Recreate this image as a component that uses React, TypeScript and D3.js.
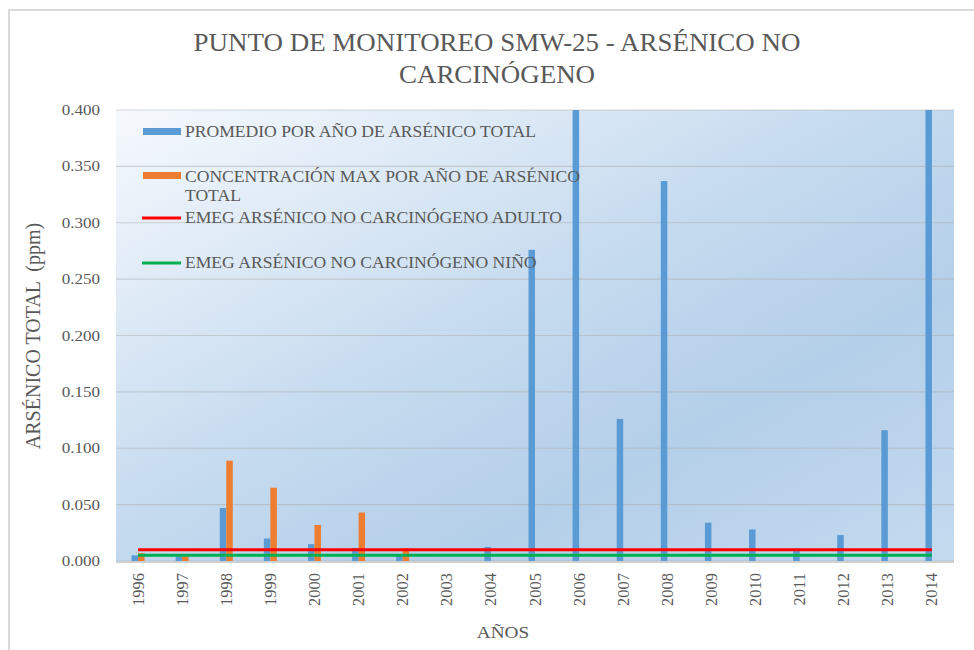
import React from "react";
import * as d3 from "d3";

const years = ["1996","1997","1998","1999","2000","2001","2002","2003","2004","2005","2006","2007","2008","2009","2010","2011","2012","2013","2014"];
const promedio: (number | null)[] = [0.005,0.004,0.047,0.020,0.015,0.0115,0.005,null,0.0125,0.276,0.45,0.126,0.337,0.034,0.028,0.010,0.023,0.116,0.45];
const maximo: (number | null)[] = [0.007,0.004,0.089,0.065,0.032,0.043,0.011,null,null,null,null,null,null,null,null,null,null,null,null];
const emegAdulto = 0.01;
const emegNino = 0.005;
const yTicks = [0, 0.05, 0.1, 0.15, 0.2, 0.25, 0.3, 0.35, 0.4];
const seriesNames = ["PROMEDIO POR AÑO DE ARSÉNICO TOTAL", "CONCENTRACIÓN MAX POR AÑO DE ARSÉNICO", "TOTAL", "EMEG ARSÉNICO NO CARCINÓGENO ADULTO", "EMEG ARSÉNICO NO CARCINÓGENO NIÑO"];

const W = 974, H = 650;
const plot = { left: 116, right: 954, top: 110, bottom: 561 };
const FONT = "'Liberation Serif', 'Times New Roman', serif";
const TXT = "#595959";
const SX = 1.1;

function SText({ x, y, size, anchor = "start", children, fill = TXT }: any) {
  return (
    <text transform={`translate(${x},${y}) scale(${SX},1)`} fontSize={size} textAnchor={anchor} fill={fill} fontFamily={FONT}>
      {children}
    </text>
  );
}

export default function App() {
  const x = d3.scaleBand<string>().domain(years).range([plot.left, plot.right]).padding(0);
  const y = d3.scaleLinear().domain([0, 0.4]).range([plot.bottom, plot.top]);
  const sub = d3.scaleBand<string>().domain(["p", "m"]).range([-6.5, 6.5]);
  const cx = (yr: string) => (x(yr) as number) + x.bandwidth() / 2;

  const redPath = d3.line<string>().x((d) => cx(d)).y(() => y(emegAdulto))(years) as string;
  const greenPath = d3.line<string>().x((d) => cx(d)).y(() => y(emegNino))(years) as string;

  return (
    <svg width={W} height={H} style={{ position: "absolute", left: 0, top: 0, background: "#fff" }}>
      <defs>
        <linearGradient id="bg" x1="0" y1="0" x2="1" y2="1">
          <stop offset="0" stopColor="#f6f9fd" />
          <stop offset="0.45" stopColor="#c6dbef" />
          <stop offset="0.7" stopColor="#b4cfe9" />
          <stop offset="1" stopColor="#c4daef" />
        </linearGradient>
        <clipPath id="clip">
          <rect x={plot.left} y={plot.top} width={plot.right - plot.left} height={plot.bottom - plot.top} />
        </clipPath>
      </defs>
      <rect x={9} y={10} width={1000} height={700} fill="#fff" stroke="#d9d9d9" strokeWidth={2} />
      <rect x={plot.left} y={plot.top} width={plot.right - plot.left} height={plot.bottom - plot.top} fill="url(#bg)" />

      {yTicks.map((t) => (
        <g key={t}>
          <line x1={plot.left} x2={plot.right} y1={y(t)} y2={y(t)} stroke="#a6a6a6" strokeOpacity={0.45} strokeWidth={1.2} />
          <SText x={100} y={y(t) + 5} size={15.5} anchor="end">{t.toFixed(3)}</SText>
        </g>
      ))}
      <line x1={plot.left} x2={plot.right} y1={plot.bottom + 1} y2={plot.bottom + 1} stroke="#d0d0d0" strokeWidth={2} />

      <g clipPath="url(#clip)">
        {years.map((yr, i) => (
          <g key={yr}>
            {promedio[i] != null && (
              <rect x={cx(yr) + (sub("p") as number)} width={sub.bandwidth()} y={y(promedio[i] as number)} height={plot.bottom - y(promedio[i] as number)} fill="#5b9bd5" />
            )}
            {maximo[i] != null && (
              <rect x={cx(yr) + (sub("m") as number)} width={sub.bandwidth()} y={y(maximo[i] as number)} height={plot.bottom - y(maximo[i] as number)} fill="#ed7d31" />
            )}
          </g>
        ))}
        <path d={redPath} stroke="#ff0000" strokeWidth={3} fill="none" />
        <path d={greenPath} stroke="#00b050" strokeWidth={3} fill="none" />
      </g>

      {years.map((yr) => (
        <text key={yr} transform={`translate(${cx(yr) + 5.5},${plot.bottom + 12}) rotate(-90)`} textAnchor="end" fontSize={16.5} fill={TXT} fontFamily={FONT}>
          {yr}
        </text>
      ))}

      {/* legend */}
      <rect x={143} y={128} width={38} height={7} fill="#5b9bd5" />
      <SText x={185} y={137} size={16}>{seriesNames[0]}</SText>
      <rect x={143} y={172} width={38} height={7} fill="#ed7d31" />
      <SText x={185} y={182} size={16}>{seriesNames[1]}</SText>
      <SText x={185} y={201} size={16}>{seriesNames[2]}</SText>
      <line x1={142} x2={181} y1={218} y2={218} stroke="#ff0000" strokeWidth={3} />
      <SText x={185} y={223} size={16}>{seriesNames[3]}</SText>
      <line x1={142} x2={181} y1={263} y2={263} stroke="#00b050" strokeWidth={3} />
      <SText x={185} y={268} size={16}>{seriesNames[4]}</SText>

      {/* titles */}
      <SText x={497} y={51} size={24.5} anchor="middle">PUNTO DE MONITOREO SMW-25 - ARSÉNICO NO</SText>
      <SText x={497} y={83} size={24.5} anchor="middle">CARCINÓGENO</SText>
      <text transform={`translate(40,336) rotate(-90)`} textAnchor="middle" fontSize={20} fill={TXT} fontFamily={FONT} xmlSpace="preserve">
        ARSÉNICO TOTAL  (ppm)
      </text>
      <SText x={503} y={638} size={17.5} anchor="middle">AÑOS</SText>
    </svg>
  );
}
